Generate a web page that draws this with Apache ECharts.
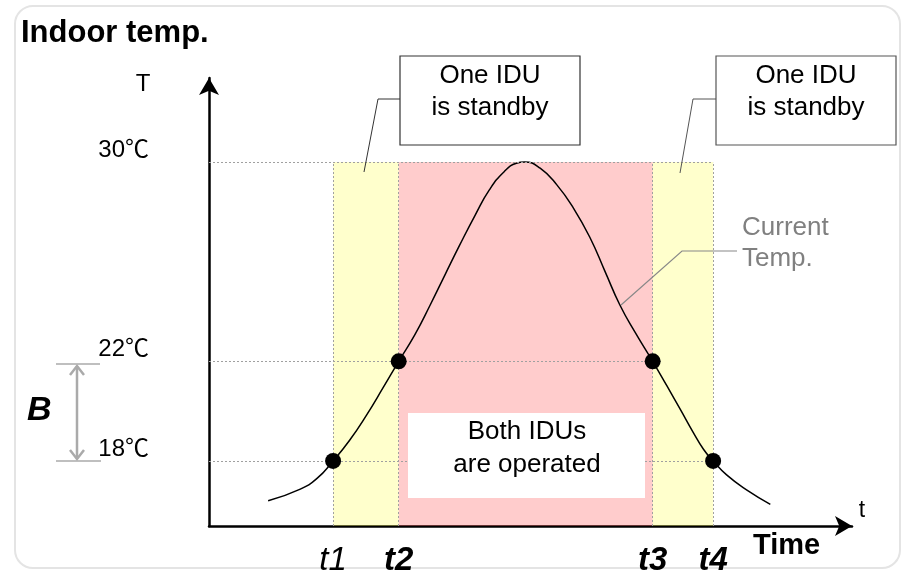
<!DOCTYPE html>
<html><head><meta charset="utf-8">
<script src="https://cdn.jsdelivr.net/npm/echarts@6/dist/echarts.min.js"></script>
<style>html,body{margin:0;padding:0;background:#fff}#c{width:904px;height:570px}</style>
</head><body><div id="c"></div>
<script>
// ---- data ----
const curveTime = [9.2, 14.2, 16.8, 19.3, 21.9, 24.5, 27.1, 29.5, 32.0, 34.4, 36.7, 39.0, 41.4, 43.6, 45.9, 47.8, 49.1, 51.5, 54.1, 56.7, 59.3, 61.6, 63.9, 66.3, 69.0, 71.2, 73.3, 75.3, 76.9, 78.4, 80.5, 83.6, 87.3];
const curveTemp = [16.40, 16.87, 17.3, 18, 18.84, 19.84, 20.95, 22, 23.06, 24.26, 25.47, 26.67, 27.87, 28.88, 29.61, 29.95, 30, 29.75, 29.08, 28.14, 26.94, 25.60, 24.26, 23.15, 22, 21.02, 20.07, 19.15, 18.47, 18, 17.44, 16.84, 16.26];
const eventNames = ['t1', 't2', 't3', 't4'];
const eventTime = [19.3, 29.5, 69.0, 78.4];
const eventTemp = [18, 22, 22, 18];
const tempTicks = [18, 22, 30];
const tempTickLabels = ['18℃', '22℃', '30℃'];
const zoneTop = 30;

// ---- layout ----
const Y_MIN = 15.39, Y_MAX = 33.37;
const FONT = '"Liberation Sans", Arial, "Noto Sans CJK JP", sans-serif';
const eventBold = [false, true, true, true];

const chart = echarts.init(document.getElementById('c'), null, {renderer: 'canvas'});

const curveData = curveTime.map((t, i) => [t, curveTemp[i]]);
const dotData = eventTime.map((t, i) => [t, eventTemp[i]]);

const yellow = 'rgba(255,255,0,0.2)';
const pink = 'rgba(255,0,0,0.2)';

const areas = [
  [{xAxis: eventTime[0], yAxis: Y_MIN, itemStyle: {color: yellow}}, {xAxis: eventTime[1], yAxis: zoneTop}],
  [{xAxis: eventTime[1], yAxis: Y_MIN, itemStyle: {color: pink}}, {xAxis: eventTime[2], yAxis: zoneTop}],
  [{xAxis: eventTime[2], yAxis: Y_MIN, itemStyle: {color: yellow}}, {xAxis: eventTime[3], yAxis: zoneTop}]
];

const guide = [
  [{coord: [0, tempTicks[2]]}, {coord: [eventTime[3], tempTicks[2]]}],
  [{coord: [0, tempTicks[1]]}, {coord: [eventTime[2], tempTicks[1]]}],
  [{coord: [0, tempTicks[0]]}, {coord: [eventTime[3], tempTicks[0]]}]
].concat(eventTime.map(t => [{coord: [t, Y_MIN]}, {coord: [t, zoneTop]}]));

const txt = (text, x, y, opts) => ({
  type: 'text', x, y, z: 110, silent: true,
  style: Object.assign({text, fill: '#000', font: '26px ' + FONT, align: 'left', verticalAlign: 'middle'}, opts || {})
});
const poly = (points, stroke, lw) => ({type: 'polyline', z: 105, silent: true, shape: {points}, style: {stroke, lineWidth: lw, fill: null}});

const graphics = [
  {type: 'rect', z: -10, silent: true, shape: {x: 15, y: 6, width: 885, height: 562, r: 18}, style: {fill: null, stroke: '#e4e4e4', lineWidth: 2}},
  txt('Indoor temp.', 21, 33, {font: 'bold 31px ' + FONT}),
  txt('T', 143, 84, {font: '24px ' + FONT, align: 'center'}),
  txt('t', 862, 511, {font: '23px ' + FONT, align: 'center'}),
  txt('Time', 753, 546, {font: 'bold 29px ' + FONT}),
  txt('B', 27, 411, {font: 'italic bold 34px ' + FONT}),
  // B range bracket
  poly([[56, 364], [100, 364]], '#aaaaaa', 1.5),
  poly([[56, 461], [101, 461]], '#aaaaaa', 1.5),
  poly([[77, 366], [77, 459]], '#aaaaaa', 2.5),
  poly([[70, 375], [77, 366], [84, 375]], '#aaaaaa', 2.5),
  poly([[70, 450], [77, 459], [84, 450]], '#aaaaaa', 2.5),
  // left callout
  poly([[400, 99], [378, 99], [364, 172]], '#333', 1),
  {type: 'rect', z: 105, silent: true, shape: {x: 400, y: 56, width: 180, height: 89}, style: {fill: '#fff', stroke: '#333', lineWidth: 1.2}},
  txt('One IDU\nis standby', 490, 92, {align: 'center', lineHeight: 32}),
  // right callout
  poly([[716, 99], [693, 99], [680, 173]], '#555', 1),
  {type: 'rect', z: 105, silent: true, shape: {x: 716, y: 56, width: 180, height: 89}, style: {fill: '#fff', stroke: '#555', lineWidth: 1.2}},
  txt('One IDU\nis standby', 806, 92, {align: 'center', lineHeight: 32}),
  // current temp
  poly([[737, 251], [682, 251], [621, 305]], '#888', 1.2),
  txt('Current\nTemp.', 742, 243, {fill: '#808080', lineHeight: 31}),
  // both IDUs box
  {type: 'rect', z: 105, silent: true, shape: {x: 408, y: 413, width: 237, height: 85}, style: {fill: '#fff'}},
  txt('Both IDUs\nare operated', 527, 448, {align: 'center', lineHeight: 33})
];

chart.setOption({
  animation: false,
  backgroundColor: '#fff',
  grid: {left: 209, right: 52, top: 78, bottom: 44, containLabel: false, outerBoundsMode: 'none'},
  xAxis: {
    type: 'value', min: 0, max: 100,
    splitLine: {show: false}, axisTick: {show: false},
    axisLine: {show: true, symbol: ['none', 'arrow'], symbolSize: [15, 17], lineStyle: {color: '#000', width: 2.5}},
    axisLabel: {
      customValues: eventTime, margin: 18, hideOverlap: false,
      formatter: v => { const i = eventTime.indexOf(v); return (eventBold[i] ? '{b|' : '{n|') + eventNames[i] + '}'; },
      rich: {
        n: {fontFamily: FONT, fontSize: 33, fontStyle: 'italic', color: '#000'},
        b: {fontFamily: FONT, fontSize: 33, fontStyle: 'italic', fontWeight: 'bold', color: '#000'}
      }
    }
  },
  yAxis: {
    type: 'value', min: Y_MIN, max: Y_MAX,
    splitLine: {show: false}, axisTick: {show: false},
    axisLine: {show: true, symbol: ['none', 'arrow'], symbolSize: [15, 17], lineStyle: {color: '#000', width: 2.5}},
    axisLabel: {
      customValues: tempTicks, margin: 60, verticalAlign: 'bottom',
      fontFamily: FONT, fontSize: 24, color: '#000',
      formatter: v => tempTickLabels[tempTicks.indexOf(v)]
    }
  },
  series: [
    {
      type: 'line', data: curveData, smooth: 0.5, symbol: 'none', z: 3,
      lineStyle: {color: '#000', width: 1.5},
      markArea: {silent: true, data: areas},
      markLine: {silent: true, symbol: ['none', 'none'], label: {show: false},
        lineStyle: {color: '#a0a0a0', width: 1, type: [2, 2]}, data: guide}
    },
    {
      type: 'scatter', data: dotData, symbol: 'circle', symbolSize: 16, z: 6,
      itemStyle: {color: '#000', opacity: 1}
    }
  ],
  graphic: graphics
});
</script></body></html>
